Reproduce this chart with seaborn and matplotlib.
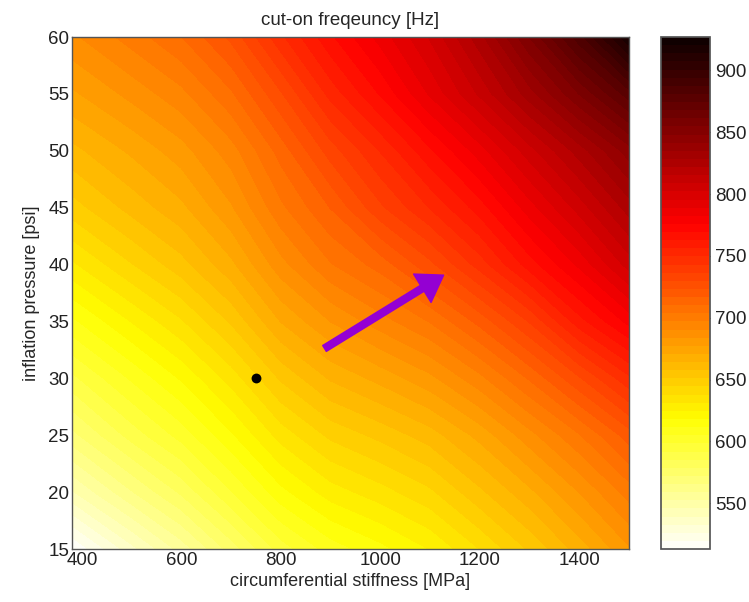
import numpy as np
import seaborn as sns
import matplotlib.pyplot as plt
from matplotlib.patches import FancyArrowPatch

# grid
stiffness = [380, 500, 600, 700, 800, 900, 1000, 1100, 1200, 1300, 1400, 1500]   # MPa
pressure = [15, 20, 25, 30, 35, 40, 45, 50, 55, 60]                                # psi

# cut-on frequency [Hz], one row per pressure value
freq = [
    [513, 537, 555, 575, 595, 608, 616, 625, 638, 652, 667, 683],
    [545, 565, 580, 598, 616, 628, 635, 643, 656, 669, 684, 700],
    [570, 588, 601, 617, 634, 646, 653, 661, 673, 688, 703, 720],
    [590, 606, 619, 634, 652, 665, 673, 682, 695, 711, 729, 748],
    [610, 625, 637, 652, 671, 684, 694, 704, 719, 737, 760, 778],
    [630, 644, 655, 669, 688, 703, 713, 728, 746, 766, 784, 805],
    [648, 660, 669, 683, 702, 717, 735, 750, 766, 786, 805, 825],
    [662, 672, 681, 694, 713, 733, 750, 768, 786, 806, 825, 845],
    [676, 686, 695, 709, 729, 752, 770, 790, 810, 832, 855, 878],
    [689, 700, 710, 725, 748, 768, 785, 803, 826, 855, 885, 920],
]

# operating point and arrow
point_x = [750]
point_y = [30]
arrow_start = (883, 32.5)
arrow_end = (1132, 39.2)

sns.set_theme(style="white")
plt.rcParams['font.family'] = ['Liberation Sans', 'DejaVu Sans']

fig = plt.figure(figsize=(7.49, 6.02), dpi=100)
ax = fig.add_axes([0.0961, 0.088, 0.7437, 0.8505])
cax = fig.add_axes([0.8825, 0.088, 0.0654, 0.8505])

X, Y = np.meshgrid(stiffness, pressure)
Z = np.array(freq)
levels = np.linspace(513, 927, 64)
cf = ax.contourf(X, Y, Z, levels=levels, cmap='hot_r', vmin=513, vmax=927)

sns.scatterplot(x=point_x, y=point_y, color='black', s=50, edgecolor='black',
                linewidth=0, ax=ax, zorder=5)

arrow = FancyArrowPatch(arrow_start, arrow_end,
                        arrowstyle='Simple, tail_width=5, head_width=24, head_length=18',
                        color='#9400D3', zorder=6)
ax.add_patch(arrow)

ax.set_xlim(380, 1500)
ax.set_ylim(15, 60)
ax.set_xticks([400, 600, 800, 1000, 1200, 1400])
ax.set_yticks([15, 20, 25, 30, 35, 40, 45, 50, 55, 60])
ax.tick_params(labelsize=13.5, length=0, pad=2, colors='#222222')
ax.set_xlabel('circumferential stiffness [MPa]', fontsize=13, labelpad=3)
ax.set_ylabel('inflation pressure [psi]', fontsize=13, labelpad=6)
ax.set_title('cut-on freqeuncy [Hz]', fontsize=13.5, pad=9)
for s in ax.spines.values():
    s.set_color('#555555')
    s.set_linewidth(1)

cb = fig.colorbar(cf, cax=cax)
cb.set_ticks([550, 600, 650, 700, 750, 800, 850, 900])
cb.ax.tick_params(labelsize=13.5, direction='in', left=True, right=True,
                  length=4, width=0.8, colors='#222222')
cb.outline.set_edgecolor('#555555')

fig.savefig('out.png', dpi=100)
